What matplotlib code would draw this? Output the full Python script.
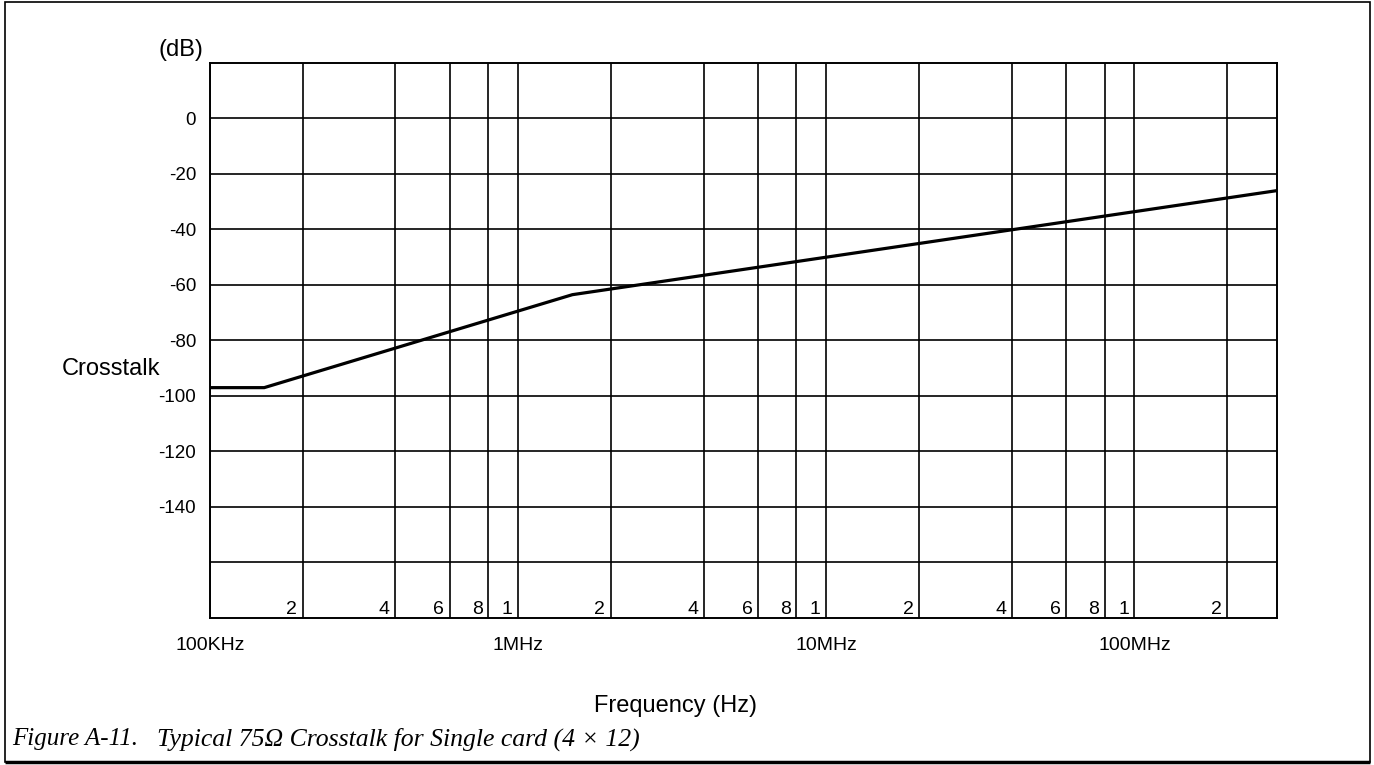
import matplotlib
matplotlib.use("Agg")
import matplotlib.pyplot as plt
from matplotlib.patches import Rectangle

# crosstalk curve (Hz, dB)
freq_hz = [1.0e5, 1.5e5, 1.5e6, 2.9e8]
crosstalk_db = [-97.0, -97.0, -63.5, -26.0]

y_ticks = [-160, -140, -120, -100, -80, -60, -40, -20, 0]
y_labels = ["", "-140", "-120", "-100", "-80", "-60", "-40", "-20", "0"]

decades = [1e5, 1e6, 1e7, 1e8]
decade_labels = ["100KHz", "1MHz", "10MHz", "100MHz"]

# grid lines inside each decade and the digit written beside them
minor_mult = [2, 4, 6, 8]
inner_ticks = [2e5, 4e5, 6e5, 8e5, 1e6, 2e6, 4e6, 6e6, 8e6, 1e7,
               2e7, 4e7, 6e7, 8e7, 1e8, 2e8]
inner_labels = ["2", "4", "6", "8", "1", "2", "4", "6", "8", "1",
                "2", "4", "6", "8", "1", "2"]

plt.rcParams['font.family'] = ['Liberation Sans', 'DejaVu Sans']

fig = plt.figure(figsize=(13.74, 7.65), dpi=100)
ax = fig.add_axes([0.1528, 0.1922, 0.7766, 0.7255])

ax.set_xscale('log')
ax.set_xlim(1e5, 2.9e8)
ax.set_ylim(-180, 20)

ax.plot(freq_hz, crosstalk_db, color='black', lw=2.3, solid_joinstyle='round')

ax.set_xticks(decades)
ax.set_xticklabels(decade_labels)
ax.set_xticks([m * d for d in decades for m in minor_mult if m * d < 2.9e8], minor=True)
ax.xaxis.set_minor_formatter(plt.NullFormatter())
ax.set_yticks(y_ticks)
ax.set_yticklabels(y_labels)

ax.tick_params(axis='both', which='both', length=0)
ax.tick_params(axis='x', pad=14, labelsize=14)
ax.tick_params(axis='y', pad=10, labelsize=13.5)

ax.grid(True, which='both', color='black', lw=1.2)
for s in ax.spines.values():
    s.set_linewidth(1.4)

for f, lab in zip(inner_ticks, inner_labels):
    ax.annotate(lab, xy=(f, 0), xycoords=('data', 'axes fraction'),
                xytext=(-4, 3), textcoords='offset points',
                ha='right', va='baseline', fontsize=14)

ax.text(-0.027, 1.023, "(dB)", transform=ax.transAxes, ha='center', va='center', fontsize=17)
ax.set_ylabel("Crosstalk", rotation=0, fontsize=17, ha='center', va='center')
ax.yaxis.set_label_coords(-0.093, 0.449)
ax.set_xlabel("Frequency (Hz)", fontsize=17, ha='center', va='center')
ax.xaxis.set_label_coords(0.4367, -0.158)

cap_font = ['Liberation Serif', 'DejaVu Serif']
fig.text(0.009, 0.034, "Figure A-11.", fontsize=18, style='italic',
         family=cap_font, va='center', ha='left')
fig.text(0.114, 0.034, "Typical 75\u03a9 Crosstalk for Single card (4 \u00d7 12)", fontsize=18.5,
         style='italic', family=cap_font, va='center', ha='left')

# outer frame of the figure
fig.patches.append(Rectangle((0.004, 0.004), 0.993, 0.993, transform=fig.transFigure,
                             fill=False, edgecolor='black', lw=1.2))
fig.patches.append(Rectangle((0.004, 0.004), 0.993, 0.0, transform=fig.transFigure,
                             fill=False, edgecolor='black', lw=2.5))

fig.savefig("out.png", dpi=100)
